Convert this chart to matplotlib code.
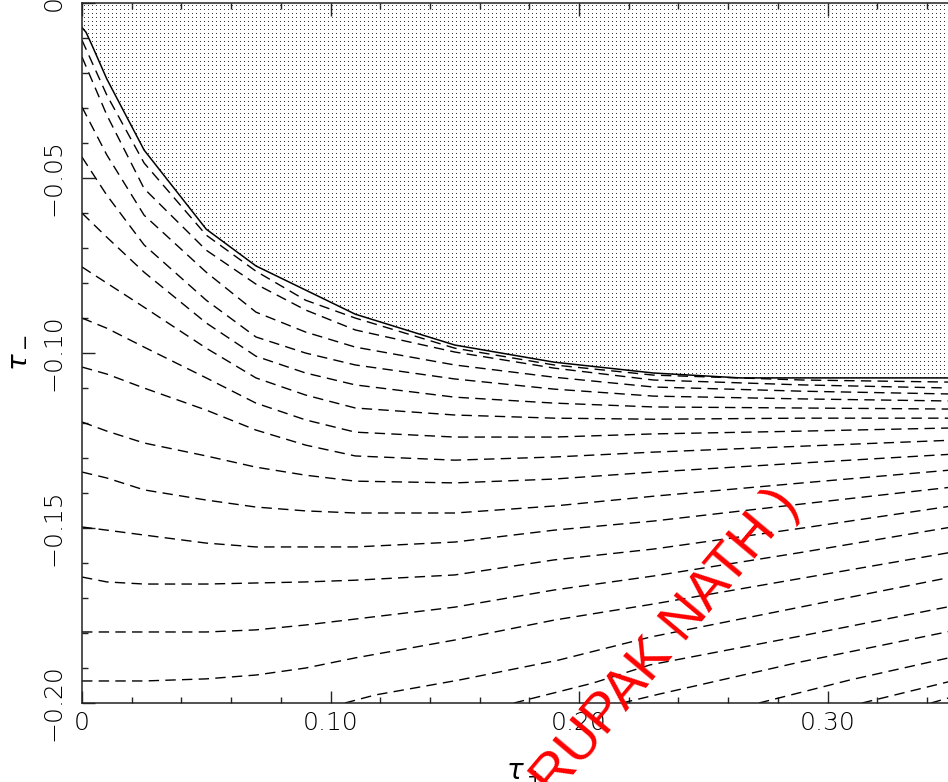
import matplotlib
matplotlib.use("Agg")
import matplotlib.pyplot as plt
from matplotlib.ticker import MultipleLocator
import numpy as np

# tau_+ positions shared by the contours that start on the left axis
tau_plus = [0, 0.01, 0.025, 0.05, 0.07, 0.09, 0.11, 0.15, 0.19, 0.23, 0.29, 0.35]

# contours starting on the left axis (tau_- values at tau_plus)
contours_left = [
    [-0.0106, -0.0263, -0.0457, -0.0663, -0.0766, -0.0849, -0.0900, -0.0986, -0.1034, -0.1063, -0.1077, -0.1083],
    [-0.0154, -0.0320, -0.0530, -0.0706, -0.0803, -0.0877, -0.0934, -0.0997, -0.1043, -0.1077, -0.1091, -0.1100],
    [-0.0297, -0.0434, -0.0606, -0.0769, -0.0883, -0.0940, -0.0983, -0.1034, -0.1069, -0.1097, -0.1109, -0.1117],
    [-0.0440, -0.0549, -0.0691, -0.0849, -0.0954, -0.1000, -0.1034, -0.1074, -0.1103, -0.1123, -0.1131, -0.1137],
    [-0.0600, -0.0669, -0.0769, -0.0914, -0.1009, -0.1057, -0.1091, -0.1126, -0.1143, -0.1154, -0.1157, -0.1160],
    [-0.0754, -0.0800, -0.0869, -0.0986, -0.1071, -0.1120, -0.1157, -0.1177, -0.1186, -0.1189, -0.1186, -0.1186],
    [-0.0900, -0.0929, -0.0983, -0.1071, -0.1143, -0.1191, -0.1226, -0.1240, -0.1240, -0.1231, -0.1223, -0.1214],
    [-0.1040, -0.1060, -0.1100, -0.1163, -0.1220, -0.1263, -0.1294, -0.1306, -0.1297, -0.1283, -0.1266, -0.1249],
    [-0.1197, -0.1223, -0.1257, -0.1294, -0.1326, -0.1349, -0.1366, -0.1371, -0.1360, -0.1340, -0.1314, -0.1289],
    [-0.1340, -0.1357, -0.1391, -0.1420, -0.1440, -0.1451, -0.1457, -0.1457, -0.1437, -0.1409, -0.1371, -0.1334],
    [-0.1497, -0.1506, -0.1520, -0.1543, -0.1554, -0.1554, -0.1554, -0.1540, -0.1506, -0.1480, -0.1431, -0.1383],
    [-0.1640, -0.1654, -0.1660, -0.1660, -0.1657, -0.1654, -0.1649, -0.1634, -0.1591, -0.1560, -0.1500, -0.1437],
    [-0.1797, -0.1797, -0.1797, -0.1797, -0.1791, -0.1777, -0.1760, -0.1726, -0.1677, -0.1637, -0.1569, -0.1497],
    [-0.1937, -0.1937, -0.1937, -0.1931, -0.1920, -0.1900, -0.1871, -0.1820, -0.1763, -0.1717, -0.1643, -0.1569],
]

# contours starting on the bottom axis
bottom_x = [
    [0.1058, 0.118, 0.152, 0.192, 0.229, 0.289, 0.35],
    [0.1738, 0.2056, 0.2286, 0.2889, 0.35],
    [0.2173, 0.2326, 0.2889, 0.35],
    [0.2724, 0.3091, 0.35],
    [0.3139, 0.35],
    [0.3416, 0.35],
]
bottom_y = [
    [-0.2, -0.1977, -0.1934, -0.1877, -0.1811, -0.1726, -0.1640],
    [-0.2, -0.1943, -0.1891, -0.1809, -0.1723],
    [-0.2, -0.1974, -0.1883, -0.1794],
    [-0.2, -0.1934, -0.1869],
    [-0.2, -0.1937],
    [-0.2, -0.1983],
]

# edge of the excluded (shaded) region
boundary_x = [0, 0.0016, 0.004, 0.01, 0.025, 0.05, 0.07, 0.09, 0.11, 0.15, 0.19, 0.23, 0.265, 0.36]
boundary_y = [-0.007, -0.0083, -0.012, -0.0217, -0.042, -0.0646, -0.0751, -0.082, -0.0889,
              -0.0977, -0.1026, -0.1057, -0.1071, -0.1071]

xticks = [0, 0.1, 0.2, 0.3]
xtick_labels = ['0', '0.10', '0.20', '0.30']
yticks = [-0.2, -0.15, -0.1, -0.05, 0]
ytick_labels = ['\u22120.20', '\u22120.15', '\u22120.10', '\u22120.05', '0']

fig = plt.figure(figsize=(9.48, 7.82), dpi=100)
ax = fig.add_axes([0.0865, 0.101, 0.9437, 0.895])
ax.set_xlim(0, 0.36)
ax.set_ylim(-0.2, 0)

# dotted shading above the boundary
shade = ax.fill_between(boundary_x, boundary_y, 0, facecolor='none', edgecolor='none')
gx, gy = np.meshgrid(np.arange(0.0008, 0.36, 4.0 / 2485), np.arange(-0.1095, 0, 4.0 / 3500))
dots, = ax.plot(gx.ravel(), gy.ravel(), ',', color='#3a3a3a')
dots.set_clip_path(shade.get_paths()[0], ax.transData)

ax.plot(boundary_x, boundary_y, color='black', lw=1.1)

dash = (0, (7.5, 4.5))
for ys in contours_left:
    ax.plot(tau_plus, ys, color='black', lw=1.0, linestyle=dash)
for xs, ys in zip(bottom_x, bottom_y):
    ax.plot(xs, ys, color='black', lw=1.0, linestyle=dash)

# axes and ticks
tick_font = dict(family='DejaVu Sans', size=18, weight='light')
ax.set_xticks(xticks)
ax.set_xticklabels(xtick_labels, fontdict=tick_font)
ax.set_yticks(yticks)
ax.set_yticklabels(ytick_labels, fontdict=tick_font, rotation=90, va='center')
ax.xaxis.set_minor_locator(MultipleLocator(0.02))
ax.yaxis.set_minor_locator(MultipleLocator(0.01))
ax.tick_params(which='both', direction='in', top=True, right=True, width=1.0, color='#222222')
ax.tick_params(which='major', length=9)
ax.tick_params(which='minor', length=4.5)
ax.tick_params(axis='x', pad=6)
ax.tick_params(axis='y', pad=12)
for s in ax.spines.values():
    s.set_linewidth(1.1)
    s.set_color('#222222')

ax.set_ylabel(r'$\tau_-$', fontsize=20, rotation=90)
ax.yaxis.set_label_coords(-0.058, 0.5)
ax.set_xlabel(r'$\tau_+$', fontsize=20)
ax.xaxis.set_label_coords(0.495, -0.078)

# watermark
fig.text(0.703, 0.178, 'RUPAK NATH )', color='red', fontsize=40, family='Liberation Sans',
         rotation=50, rotation_mode='anchor', ha='center', va='center')

fig.savefig('out.png', dpi=100)
